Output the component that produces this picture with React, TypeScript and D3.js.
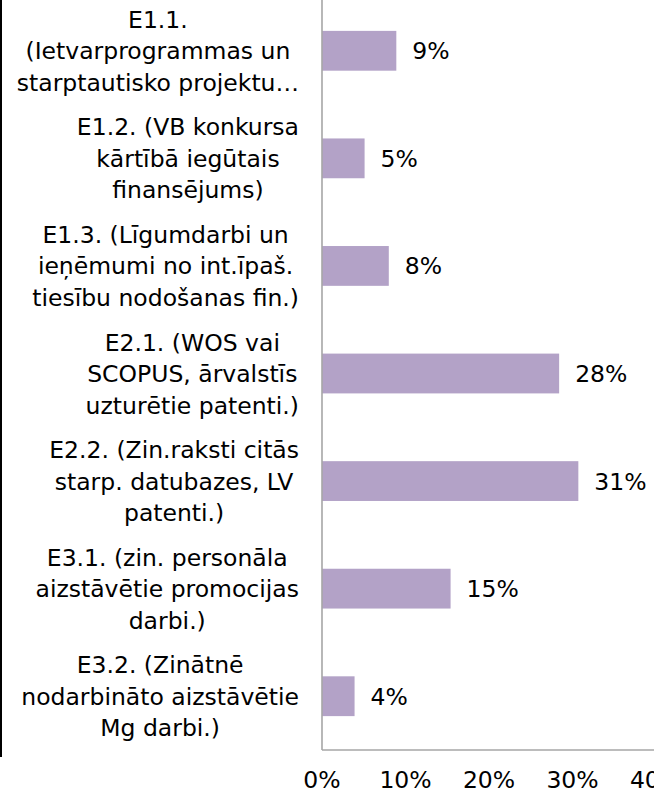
import React, {useRef, useEffect} from 'react';
import * as d3 from 'd3';

const categories = ['E1.1', 'E1.2', 'E1.3', 'E2.1', 'E2.2', 'E3.1', 'E3.2'];

const categoryLines = [
    ['E1.1.', '(Ietvarprogrammas un', 'starptautisko projektu…'],
    ['E1.2. (VB konkursa', 'kārtībā iegūtais', 'finansējums)'],
    ['E1.3. (Līgumdarbi un', 'ieņēmumi no int.īpaš.', 'tiesību nodošanas fin.)'],
    ['E2.1. (WOS vai', 'SCOPUS, ārvalstīs', 'uzturētie patenti.)'],
    ['E2.2. (Zin.raksti citās', 'starp. datubazes, LV', 'patenti.)'],
    ['E3.1. (zin. personāla', 'aizstāvētie promocijas', 'darbi.)'],
    ['E3.2. (Zinātnē', 'nodarbināto aizstāvētie', 'Mg darbi.)'],
];

const shares = [8.9, 5.1, 8.0, 28.4, 30.7, 15.4, 3.9];

const tickValues = [0, 10, 20, 30, 40];

const config = {
    width: 654,
    height: 793,
    margin: {left: 322, right: -2, top: -3, bottom: 43},
};

const FONT = '"DejaVu Sans", Verdana, sans-serif';
const FONT_SIZE = 23.5;
const BAR_COLOR = '#b3a2c7';
const AXIS_COLOR = '#a6a6a6';

function App() {
    const ref = useRef(null);
    const margin = config.margin;
    const plotBottom = config.height - margin.bottom;

    const x = d3.scaleLinear()
        .domain([0, 40])
        .range([margin.left, config.width - margin.right]);

    const y = d3.scaleBand()
        .domain(categories)
        .range([margin.top, plotBottom])
        .paddingInner(0.63)
        .paddingOuter(0.315);

    const capMid = FONT_SIZE * 0.729 / 2;
    const lineGap = 31.5;

    useEffect(() => {
        // labels: lines centred inside a block that is right-aligned at the axis
        const g = d3.select(ref.current).select('.labels');
        g.selectAll('*').remove();
        categories.forEach((c, i) => {
            const lines = categoryLines[i];
            const cy = y(c) + y.bandwidth() / 2;
            const texts = g.selectAll(null)
                .data(lines)
                .enter()
                .append('text')
                .attr('y', (d, k) => cy + capMid + (k - (lines.length - 1) / 2) * lineGap)
                .attr('text-anchor', 'middle')
                .attr('font-family', FONT)
                .attr('font-size', FONT_SIZE)
                .attr('fill', '#000')
                .text(d => d);
            let maxW = 0;
            texts.each(function () {
                maxW = Math.max(maxW, this.getComputedTextLength());
            });
            texts.attr('x', 299 - maxW / 2);
        });
    }, []);

    return (
        <svg ref={ref}
             width={config.width}
             height={config.height}
             style={{position: 'absolute', left: 0, top: 0}}
             display="block">
            <rect x={0} y={0} width={config.width} height={config.height} fill="#fff" />

            <line x1={1} x2={1} y1={0} y2={757} stroke="#000" strokeWidth={2} />

            <g className="labels" />

            <g className="bars">
                {categories.map((c, i) => (
                    <rect key={c}
                          x={x(0)}
                          y={y(c)}
                          width={x(shares[i]) - x(0)}
                          height={y.bandwidth()}
                          fill={BAR_COLOR} />
                ))}
            </g>

            <g className="values" fontFamily={FONT} fontSize={FONT_SIZE} fill="#000">
                {categories.map((c, i) => (
                    <text key={c}
                          x={x(shares[i]) + 16}
                          y={y(c) + y.bandwidth() / 2 + capMid}>
                        {Math.round(shares[i]) + '%'}
                    </text>
                ))}
            </g>

            <line x1={x(0)} x2={x(0)} y1={0} y2={plotBottom} stroke={AXIS_COLOR} strokeWidth={1.6} />
            <line x1={x(0)} x2={config.width} y1={plotBottom} y2={plotBottom} stroke={AXIS_COLOR} strokeWidth={1.6} />

            <g className="ticks" fontFamily={FONT} fontSize={FONT_SIZE} fill="#000" textAnchor="middle">
                {tickValues.map(t => (
                    <text key={t} x={x(t)} y={788}>{t + '%'}</text>
                ))}
            </g>
        </svg>
    );
}

export default App;
